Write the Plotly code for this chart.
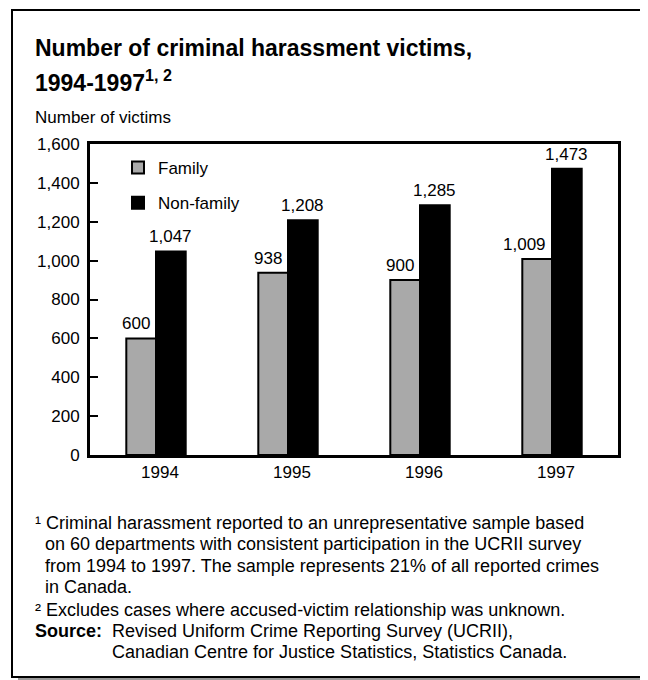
import plotly.graph_objects as go

years = ["1994", "1995", "1996", "1997"]
family = [600, 938, 900, 1009]
non_family = [1047, 1208, 1285, 1473]
y_ticks = [0, 200, 400, 600, 800, 1000, 1200, 1400, 1600]
y_tick_labels = ["0", "200", "400", "600", "800", "1,000", "1,200", "1,400", "1,600"]

FONT = "Liberation Sans, Arial, Helvetica, sans-serif"
OFF = 8  # page body margin
W, H = 648 - OFF, 680 - OFF
# plot area in reference pixel coords
X0, X1, Y0, Y1 = 90, 618, 144, 455
L, T = X0 - OFF, Y0 - OFF
R, B = W - (X1 - OFF), H - (Y1 - OFF)
PW, PH = X1 - X0, Y1 - Y0
BARGAP = 0.55
CAT_W = PW / len(years)
BAR_W = CAT_W * (1 - BARGAP) / 2

def px(x):
    return (x - X0) / PW

def py(y):
    return (Y1 - y) / PH

BODY = 17
NOTE = 18
fig = go.Figure()
fig.add_trace(go.Bar(
    x=years, y=family, name="Family",
    marker=dict(color="#a9a9a9", line=dict(color="black", width=2)),
    legendgroup="a",
))
fig.add_trace(go.Bar(
    x=years, y=non_family, name="Non-family",
    marker=dict(color="black", line=dict(color="black", width=2)),
    legendgroup="b",
))

fig.update_layout(
    width=W, height=H,
    margin=dict(l=L, r=R, t=T, b=B),
    paper_bgcolor="white", plot_bgcolor="rgba(0,0,0,0)",
    font=dict(family=FONT, size=BODY, color="black"),
    barmode="group", bargap=BARGAP, bargroupgap=0,
    showlegend=True,
    legend=dict(x=px(118), y=py(150), xanchor="left", yanchor="top",
                bgcolor="rgba(0,0,0,0)", font=dict(size=BODY, family=FONT),
                tracegroupgap=10, itemwidth=30),
    xaxis=dict(type="category", range=[-0.5, len(years) - 0.5],
               showline=True, linecolor="black", linewidth=3,
               mirror=True, ticks="", tickfont=dict(size=BODY), showgrid=False,
               ticklabelshift=4),
    yaxis=dict(range=[0, 1600], tickvals=y_ticks, ticktext=y_tick_labels,
               showline=True, linecolor="black", linewidth=3, mirror=True,
               ticks="inside", ticklen=8, tickwidth=2, tickcolor="black",
               tickfont=dict(size=BODY), showgrid=False, zeroline=False,
               ticklabelstandoff=4),
)

shapes = []
# drop shadow
shapes.append(dict(type="rect", xref="paper", yref="paper",
                   x0=px(642), x1=px(648), y0=py(680), y1=py(22),
                   fillcolor="#9a9a9a", line=dict(width=0), layer="below"))
shapes.append(dict(type="rect", xref="paper", yref="paper",
                   x0=px(18), x1=px(648), y0=py(680), y1=py(677),
                   fillcolor="#9a9a9a", line=dict(width=0), layer="below"))
# outer frame
shapes.append(dict(type="rect", xref="paper", yref="paper",
                   x0=px(12), x1=px(642), y0=py(677), y1=py(10),
                   line=dict(color="black", width=2), fillcolor="rgba(0,0,0,0)",
                   layer="above"))
fig.update_layout(shapes=shapes)

ann = []
# value labels above bars (x given as category index)
for i, (fv, nv) in enumerate(zip(family, non_family)):
    # family label right-aligned just left of the group centre
    ann.append(dict(xref="x", yref="y", x=i, y=fv, text=f"{fv:,}",
                    xshift=-4, yshift=3, showarrow=False,
                    xanchor="right", yanchor="bottom",
                    font=dict(size=BODY, family=FONT, color="black")))
    # non-family label centred over its bar
    ann.append(dict(xref="x", yref="y", x=i, y=nv, text=f"{nv:,}",
                    xshift=BAR_W / 2, yshift=3, showarrow=False,
                    xanchor="center", yanchor="bottom",
                    font=dict(size=BODY, family=FONT, color="black")))

def text(x, y, s, size=NOTE, yanchor="middle"):
    ann.append(dict(xref="paper", yref="paper", x=px(x), y=py(y), text=s,
                    showarrow=False, xanchor="left", yanchor=yanchor,
                    font=dict(size=size, family=FONT, color="black"),
                    align="left"))

text(33, 48, "<b>Number of criminal harassment victims,</b>", 23)
text(33, 81, "<b>1994-1997<sup>1, 2</sup></b>", 23)
text(33, 118, "Number of victims", BODY)

text(33, 523, "¹ Criminal harassment reported to an unrepresentative sample based")
text(43, 544, "on 60 departments with consistent participation in the UCRII survey")
text(43, 566, "from 1994 to 1997. The sample represents 21% of all reported crimes")
text(43, 587, "in Canada.")
text(33, 610, "² Excludes cases where accused-victim relationship was unknown.")
text(33, 631, "<b>Source:</b>")
text(110, 631, "Revised Uniform Crime Reporting Survey (UCRII),")
text(110, 652, "Canadian Centre for Justice Statistics, Statistics Canada.")
fig.update_layout(annotations=ann)

fig.write_html("out.html")
